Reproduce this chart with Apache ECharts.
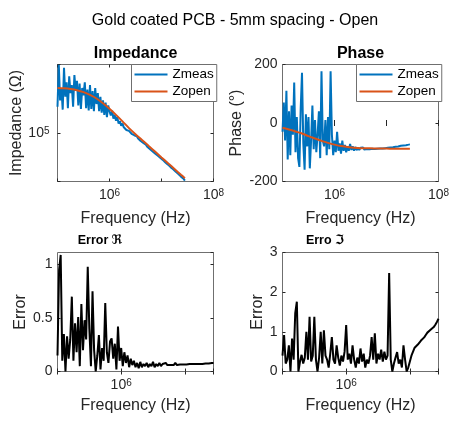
<!DOCTYPE html>
<html>
<head>
<meta charset="utf-8">
<script src="https://cdn.jsdelivr.net/npm/echarts@6/dist/echarts.min.js"></script>
<style>
  html, body { margin: 0; padding: 0; background: #fff; }
  #chart { width: 450px; height: 421px; }
</style>
</head>
<body>
<div id="chart"></div>
<script>
// Frequency sweep (Hz), 40 points per decade
const freq = [
  1.000e5, 1.059e5, 1.122e5, 1.189e5, 1.259e5, 1.334e5, 1.413e5, 1.496e5, 1.585e5, 1.679e5,
  1.778e5, 1.884e5, 1.995e5, 2.113e5, 2.239e5, 2.371e5, 2.512e5, 2.661e5, 2.818e5, 2.985e5,
  3.162e5, 3.350e5, 3.548e5, 3.758e5, 3.981e5, 4.217e5, 4.467e5, 4.732e5, 5.012e5, 5.309e5,
  5.623e5, 5.957e5, 6.310e5, 6.683e5, 7.079e5, 7.499e5, 7.943e5, 8.414e5, 8.913e5, 9.441e5,
  1.000e6, 1.059e6, 1.122e6, 1.189e6, 1.259e6, 1.334e6, 1.413e6, 1.496e6, 1.585e6, 1.679e6,
  1.778e6, 1.884e6, 1.995e6, 2.113e6, 2.239e6, 2.371e6, 2.512e6, 2.661e6, 2.818e6, 2.985e6,
  3.162e6, 3.350e6, 3.548e6, 3.758e6, 3.981e6, 4.217e6, 4.467e6, 4.732e6, 5.012e6, 5.309e6,
  5.623e6, 5.957e6, 6.310e6, 6.683e6, 7.079e6, 7.499e6, 7.943e6, 8.414e6, 8.913e6, 9.441e6,
  1.000e7, 1.059e7, 1.122e7, 1.189e7, 1.259e7, 1.334e7, 1.413e7, 1.496e7, 1.585e7, 1.679e7,
  1.778e7, 1.884e7, 1.995e7, 2.113e7, 2.239e7, 2.371e7, 2.512e7, 2.661e7, 2.818e7
];

// Measured impedance magnitude (Ohm)
const zmeasMag = [
  2.30e5, 8.71e5, 2.82e5, 4.17e5, 2.10e5, 7.94e5, 3.16e5, 5.01e5, 2.20e5, 6.03e5,
  3.55e5, 4.57e5, 2.30e5, 6.31e5, 3.80e5, 5.25e5, 2.40e5, 4.79e5, 2.15e5, 4.17e5,
  3.31e5, 5.01e5, 2.20e5, 3.98e5, 2.05e5, 4.57e5, 2.15e5, 3.80e5, 2.00e5, 4.17e5,
  2.51e5, 3.55e5, 2.00e5, 3.16e5, 1.91e5, 2.82e5, 1.78e5, 2.63e5, 1.66e5, 2.40e5,
  2.00e5, 1.74e5, 2.04e5, 1.58e5, 1.78e5, 1.48e5, 1.66e5, 1.35e5, 1.45e5, 1.26e5,
  1.35e5, 1.20e5, 1.26e5, 1.10e5, 1.15e5, 1.07e5, 1.10e5, 9.77e4, 1.00e5, 9.33e4,
  9.12e4, 9.02e4, 8.41e4, 8.32e4, 7.76e4, 7.67e4, 7.33e4, 7.00e4, 6.92e4, 6.46e4,
  6.38e4, 6.03e4, 5.96e4, 5.62e4, 5.50e4, 5.25e4, 5.13e4, 4.90e4, 4.73e4, 4.57e4,
  4.37e4, 4.27e4, 4.07e4, 3.94e4, 3.76e4, 3.67e4, 3.51e4, 3.39e4, 3.24e4, 3.16e4,
  3.02e4, 2.92e4, 2.82e4, 2.72e4, 2.60e4, 2.51e4, 2.43e4, 2.34e4, 2.21e4
];

// Measured impedance phase (degrees)
const zmeasPhase = [
  -30, 70, -60, 110, -125, 40, -110, 60, -40, 138,
  -100, 20, -120, -150, 50, 172, -70, -160, 30, -80,
  20, -155, -60, 60, -90, 10, -100, -40, 40, -120,
  177, -60, -80, 10, -110, 20, -90, 177, -40, -110,
  -60, -100, -30, -95, -70, -105, -60, -95, -75, -100,
  -80, -95, -72, -92, -80, -95, -82, -93, -84, -92,
  -85, -90, -84, -91, -86, -89, -85, -90, -86, -88,
  -85, -89, -86, -88, -86, -87, -85, -87, -85, -86,
  -84, -85, -83, -84, -82, -83, -81, -81, -80, -80,
  -79, -78, -78, -77, -76, -76, -75, -74, -73
];

// Open-circuit model
const zopenFreq = [
  1.000e5, 1.334e5, 1.778e5, 2.371e5, 3.162e5, 4.217e5, 5.623e5, 7.499e5,
  1.000e6, 1.334e6, 1.778e6, 2.371e6, 3.162e6, 4.217e6, 5.623e6, 7.499e6,
  1.000e7, 1.334e7, 1.778e7, 2.371e7, 2.818e7
];
const zopenMag = [
  4.18e5, 4.13e5, 4.04e5, 3.89e5, 3.66e5, 3.35e5, 2.99e5, 2.57e5,
  2.16e5, 1.78e5, 1.45e5, 1.17e5, 9.66e4, 8.04e4, 6.68e4, 5.56e4,
  4.62e4, 3.85e4, 3.20e4, 2.66e4, 2.39e4
];
const zopenPhase = [
  -16, -22, -29, -36, -45, -53, -61, -68,
  -74, -79, -82, -84.5, -86, -86.5, -87, -87.5,
  -87.5, -88, -88, -88, -88
];

// Relative error, real and imaginary parts
const errRe = [
  0.15, 0.95, 1.09, 0.10, 0.35, 0.00, 0.33, 0.12, 0.30, 0.70,
  0.10, 0.45, 0.18, 0.51, 0.05, 0.63, 0.20, 0.48, 0.30, 0.98,
  0.40, 0.05, 0.75, 0.20, 0.00, 0.15, 0.34, 0.02, 0.22, 0.10,
  0.64, 0.18, 0.08, 0.28, 0.31, 0.12, 0.26, 0.02, 0.42, 0.10,
  0.22, 0.05, 0.18, 0.08, 0.15, 0.04, 0.12, 0.06, 0.10, 0.04,
  0.08, 0.03, 0.09, 0.04, 0.07, 0.05, 0.08, 0.04, 0.07, 0.05,
  0.09, 0.04, 0.07, 0.05, 0.08, 0.05, 0.07, 0.06, 0.08, 0.06,
  0.07, 0.06, 0.07, 0.06, 0.08, 0.06, 0.07, 0.065, 0.075, 0.065,
  0.07, 0.065, 0.075, 0.07, 0.075, 0.07, 0.075, 0.07, 0.08, 0.07,
  0.075, 0.07, 0.08, 0.075, 0.08, 0.075, 0.08, 0.08, 0.08
];
const errIm = [
  0.40, 0.92, 0.20, 0.30, 0.66, 0.00, 0.83, 0.30, 1.47, 1.76,
  0.00, 0.25, 0.42, 0.20, 0.35, 1.00, 0.30, 1.38, 0.25, 0.40,
  1.38, 0.30, 0.00, 0.35, 1.00, 0.20, 1.04, 0.40, 0.30, 0.10,
  0.45, 0.87, 0.30, 0.20, 0.66, 0.35, 0.15, 0.40, 0.25, 0.50,
  1.17, 0.30, 0.45, 0.20, 0.66, 0.30, 0.10, 0.35, 0.20, 0.58,
  0.25, 0.45, 0.10, 0.30, 0.20, 0.40, 0.87, 0.30, 0.96, 0.20,
  0.45, 0.30, 0.55, 0.25, 0.50, 0.30, 0.40, 2.48, 0.30, 0.00,
  0.20, 0.35, 0.49, 0.20, 0.30, 0.10, 0.66, 0.30, 0.00, 0.10,
  0.15, 0.40, 0.35, 0.60, 0.55, 0.68, 0.65, 0.78, 0.80, 0.86,
  0.92, 0.98, 1.02, 1.05, 1.08, 1.12, 1.18, 1.25, 1.33
];

const FONT = '"Liberation Sans", Arial, Helvetica, sans-serif';
const INK = '#262626';
const BOX = '#6f6f6f';
const BLUE = '#0072BD';
const ORANGE = '#D95319';

function pairs(xs, ys) { return xs.map((x, i) => [x, ys[i]]); }

// label only the listed decades, as 10 with a raised exponent
function decadeLabel(shown) {
  return function (v) {
    const e = Math.log10(v);
    const r = Math.round(e);
    if (Math.abs(e - r) > 1e-6 || shown.indexOf(r) < 0) return '';
    return '{b|10}{s|' + r + '}';
  };
}
const powRich = {
  b: { fontSize: 14, fontFamily: FONT, color: INK, lineHeight: 14, padding: [4, 0, 0, 0], verticalAlign: 'bottom' },
  s: { fontSize: 10, fontFamily: FONT, color: INK, lineHeight: 10, verticalAlign: 'top' }
};

const boxes = [
  [57.5, 64.5, 156, 117],
  [282.5, 64.5, 156, 117],
  [57.5, 252.5, 156, 119],
  [282.5, 252.5, 156, 119]
];

const tick = { show: true, inside: true, length: 3, lineStyle: { color: INK, width: 1 } };
const nameStyle = { fontSize: 16, color: INK, fontFamily: FONT };

const xMax = [1e8, 1e8, 2.818e7, 2.818e7];
const xNameGap = [29, 29, 26, 26];

const xAxis = [];
const yAxis = [];
for (let i = 0; i < 4; i++) {
  xAxis.push({
    gridIndex: i, type: 'log', logBase: 10, min: 1e5, max: xMax[i], position: 'bottom',
    name: 'Frequency (Hz)', nameLocation: 'middle', nameGap: xNameGap[i], nameTextStyle: nameStyle,
    axisLine: { show: false }, axisTick: tick, splitLine: { show: false },
    axisLabel: { formatter: decadeLabel([6, 8]), margin: 7, rich: powRich }
  });
}
for (let i = 0; i < 4; i++) {
  xAxis.push({
    gridIndex: i, type: 'log', logBase: 10, min: 1e5, max: xMax[i], position: 'top',
    axisLine: { show: false }, axisTick: tick, splitLine: { show: false }, axisLabel: { show: false }
  });
}

const yLabel = { fontSize: 14, color: INK, fontFamily: FONT, margin: 5 };
yAxis.push({
  gridIndex: 0, type: 'log', logBase: 10, min: 2.15e4, max: 8.8e5, position: 'left',
  name: 'Impedance (\u03A9)', nameLocation: 'middle', nameGap: 32, nameTextStyle: nameStyle,
  axisLine: { show: false }, axisTick: tick, splitLine: { show: false },
  axisLabel: { formatter: decadeLabel([5]), margin: 8, rich: powRich }
});
yAxis.push({
  gridIndex: 1, type: 'value', min: -200, max: 200, interval: 200, position: 'left',
  name: 'Phase (\u00B0)', nameLocation: 'middle', nameGap: 38, nameTextStyle: nameStyle,
  axisLine: { show: false }, axisTick: tick, splitLine: { show: false }, axisLabel: yLabel
});
yAxis.push({
  gridIndex: 2, type: 'value', min: 0, max: 1.113, interval: 0.5, position: 'left',
  name: 'Error', nameLocation: 'middle', nameGap: 29, nameTextStyle: nameStyle,
  axisLine: { show: false }, axisTick: tick, splitLine: { show: false },
  axisLabel: Object.assign({ showMaxLabel: false }, yLabel)
});
yAxis.push({
  gridIndex: 3, type: 'value', min: 0, max: 3, interval: 1, position: 'left',
  name: 'Error', nameLocation: 'middle', nameGap: 17, nameTextStyle: nameStyle,
  axisLine: { show: false }, axisTick: tick, splitLine: { show: false }, axisLabel: yLabel
});
// mirrored ticks on the right-hand side of each box
const yMirror = [
  { type: 'log', logBase: 10, min: 2.15e4, max: 8.8e5 },
  { type: 'value', min: -200, max: 200, interval: 200 },
  { type: 'value', min: 0, max: 1.113, interval: 0.5 },
  { type: 'value', min: 0, max: 3, interval: 1 }
];
yMirror.forEach((m, i) => {
  yAxis.push(Object.assign({
    gridIndex: i, position: 'right',
    axisLine: { show: false }, axisTick: tick, splitLine: { show: false }, axisLabel: { show: false }
  }, m));
});

function lineSeries(name, xi, data, color, extra) {
  return Object.assign({
    type: 'line', name: name, xAxisIndex: xi, yAxisIndex: xi, data: data,
    symbol: 'none', showSymbol: false, animation: false,
    lineStyle: { color: color, width: 2 }, itemStyle: { color: color }
  }, extra || {});
}

const legendCommon = {
  data: ['Zmeas', 'Zopen'], orient: 'vertical', top: 64.5, icon: 'rect',
  itemWidth: 33, itemHeight: 2, itemGap: 3, padding: [3, 3, 3, 3],
  textStyle: { fontSize: 13.5, color: '#000', fontFamily: FONT },
  borderColor: BOX, borderWidth: 1, backgroundColor: '#fff', borderRadius: 0,
  selectedMode: false, z: 10
};

const subTitle = (text, x, y) => ({
  text: text, left: x, top: y, textAlign: 'center', padding: 0,
  textStyle: { fontSize: 12.5, color: '#000', fontFamily: FONT,
    rich: { b: { fontSize: 12.5, fontWeight: 'bold', color: '#000', fontFamily: FONT },
            r: { fontSize: 13, color: '#000', fontFamily: '"DejaVu Sans"' } } }
});

const option = {
  animation: false,
  backgroundColor: '#fff',
  title: [
    { text: 'Gold coated PCB - 5mm spacing - Open', left: 235, top: 13, textAlign: 'center', padding: 0,
      textStyle: { fontSize: 16, fontWeight: 'normal', color: '#000', fontFamily: FONT } },
    { text: 'Impedance', left: 135.5, top: 46, textAlign: 'center', padding: 0,
      textStyle: { fontSize: 16, fontWeight: 'bold', color: '#000', fontFamily: FONT } },
    { text: 'Phase', left: 360.5, top: 46, textAlign: 'center', padding: 0,
      textStyle: { fontSize: 16, fontWeight: 'bold', color: '#000', fontFamily: FONT } },
    subTitle('{b|Error} {r|\u211C}', 100, 234),
    subTitle('{b|Erro} {r|\u2111}', 325, 234)
  ],
  legend: [
    Object.assign({ left: 131.5 }, legendCommon),
    Object.assign({ left: 356.5 }, legendCommon)
  ],
  grid: boxes.map(b => ({
    left: b[0], top: b[1], width: b[2], height: b[3], show: true,
    borderColor: BOX, borderWidth: 1, backgroundColor: '#fff',
    containLabel: false, outerBoundsMode: 'none'
  })),
  xAxis: xAxis,
  yAxis: yAxis,
  series: [
    lineSeries('Zmeas', 0, pairs(freq, zmeasMag), BLUE, { z: 2 }),
    lineSeries('Zopen', 0, pairs(zopenFreq, zopenMag), ORANGE, { z: 3, smooth: 0.3 }),
    lineSeries('Zmeas', 1, pairs(freq, zmeasPhase), BLUE, { z: 2 }),
    lineSeries('Zopen', 1, pairs(zopenFreq, zopenPhase), ORANGE, { z: 3, smooth: 0.3 }),
    lineSeries('ErrRe', 2, pairs(freq, errRe), '#000'),
    lineSeries('ErrIm', 3, pairs(freq, errIm), '#000')
  ]
};

const chart = echarts.init(document.getElementById('chart'), null, { renderer: 'canvas' });
chart.setOption(option);
</script>
</body>
</html>
